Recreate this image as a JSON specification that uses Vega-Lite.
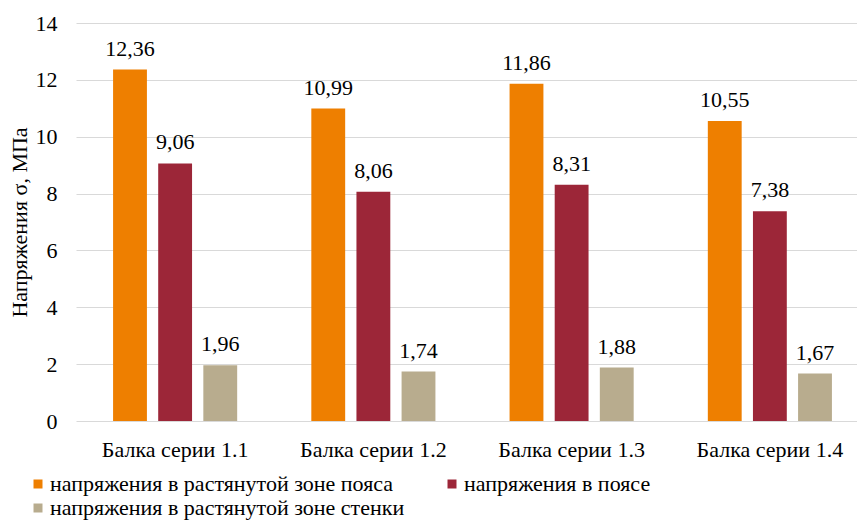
{
  "$schema": "https://vega.github.io/schema/vega-lite/v6.json",
  "autosize": {"type": "none"},
  "padding": {"left": 76, "top": 23, "right": 0, "bottom": 99},
  "width": 781,
  "height": 398,
  "background": "white",
  "config": {
    "locale": {"number": {"decimal": ",", "thousands": " ", "grouping": [3], "currency": ["", ""]}},
    "font": "Liberation Serif",
    "view": {"stroke": null}
  },
  "data": {
    "values": [
      {"beam": "Балка серии 1.1", "series": "напряжения в растянутой зоне пояса", "value": 12.36},
      {"beam": "Балка серии 1.1", "series": "напряжения в поясе", "value": 9.06},
      {"beam": "Балка серии 1.1", "series": "напряжения в растянутой зоне стенки", "value": 1.96},
      {"beam": "Балка серии 1.2", "series": "напряжения в растянутой зоне пояса", "value": 10.99},
      {"beam": "Балка серии 1.2", "series": "напряжения в поясе", "value": 8.06},
      {"beam": "Балка серии 1.2", "series": "напряжения в растянутой зоне стенки", "value": 1.74},
      {"beam": "Балка серии 1.3", "series": "напряжения в растянутой зоне пояса", "value": 11.86},
      {"beam": "Балка серии 1.3", "series": "напряжения в поясе", "value": 8.31},
      {"beam": "Балка серии 1.3", "series": "напряжения в растянутой зоне стенки", "value": 1.88},
      {"beam": "Балка серии 1.4", "series": "напряжения в растянутой зоне пояса", "value": 10.55},
      {"beam": "Балка серии 1.4", "series": "напряжения в поясе", "value": 7.38},
      {"beam": "Балка серии 1.4", "series": "напряжения в растянутой зоне стенки", "value": 1.67}
    ]
  },
  "encoding": {
    "x": {
      "field": "beam", "type": "nominal", "title": null,
      "scale": {"range": [0, 793], "paddingInner": 0.374, "paddingOuter": 0.187},
      "axis": {"domain": false, "ticks": false, "labelAngle": 0, "labelFontSize": 22, "labelColor": "#000000", "labelPadding": 18, "labelFont": "Liberation Serif"}
    },
    "xOffset": {
      "field": "series", "type": "nominal",
      "sort": ["напряжения в растянутой зоне пояса", "напряжения в поясе", "напряжения в растянутой зоне стенки"],
      "scale": {"paddingInner": 0.25, "paddingOuter": 0}
    },
    "y": {
      "field": "value", "type": "quantitative",
      "title": "Напряжения σ, МПа",
      "scale": {"domain": [0, 14], "nice": false},
      "axis": {"values": [0, 2, 4, 6, 8, 10, 12, 14], "format": "d", "domain": false, "ticks": false,
        "labelFontSize": 22, "labelColor": "#000000", "labelPadding": 19, "labelFont": "Liberation Serif",
        "titleFontSize": 22, "titleFontWeight": "normal", "titleColor": "#000000", "titlePadding": 4, "titleFont": "Liberation Serif",
        "gridColor": "#D9D9D9", "gridWidth": 1.2}
    }
  },
  "layer": [
    {
      "mark": {"type": "bar"},
      "encoding": {
        "color": {
          "field": "series", "type": "nominal", "title": null,
          "scale": {
            "domain": ["напряжения в растянутой зоне пояса", "напряжения в поясе", "напряжения в растянутой зоне стенки"],
            "range": ["#EE7F00", "#9C2638", "#B8AC8E"]
          },
          "legend": {
            "orient": "none", "legendX": -49, "legendY": 450, "direction": "horizontal", "columns": 2, "padding": 0,
            "symbolType": "square", "symbolSize": 81, "symbolStrokeWidth": 0, "symbolOffset": 0,
            "labelFontSize": 22, "labelColor": "#000000", "labelFont": "Liberation Serif", "labelOffset": 1, "labelLimit": 600,
            "columnPadding": 36, "rowPadding": 2
          }
        }
      }
    },
    {
      "mark": {"type": "text", "dy": -14, "fontSize": 22, "color": "#000000", "baseline": "alphabetic", "font": "Liberation Serif"},
      "encoding": {
        "text": {"field": "value", "type": "quantitative", "format": ".2f"}
      }
    }
  ]
}
